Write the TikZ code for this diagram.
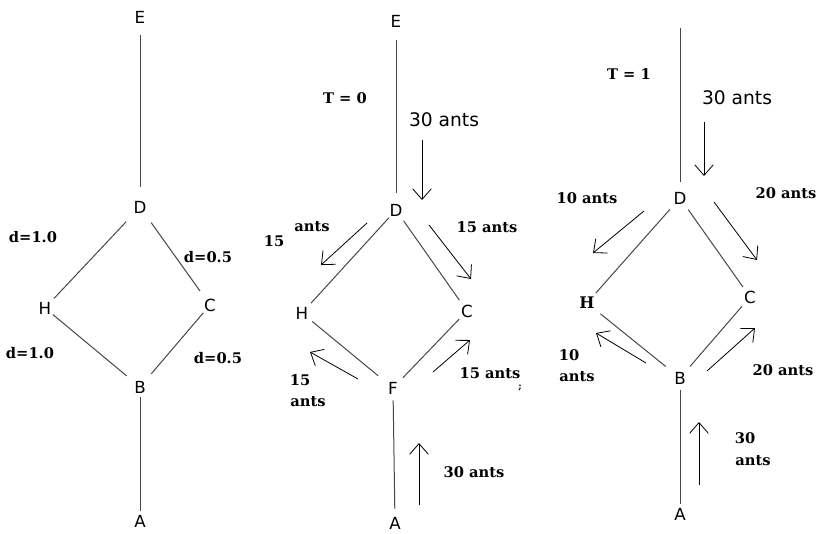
\documentclass[tikz,border=0pt]{standalone}
\usepackage{fontspec}
\setmainfont{DejaVu Serif}
\newfontfamily\sansfam{DejaVu Sans}
\usetikzlibrary{arrows.meta}
\begin{document}
\begin{tikzpicture}[x=0.75pt,y=-0.75pt,
  vtx/.style={circle,inner sep=0pt,minimum size=15pt,font=\sansfam\fontsize{12.5}{15}\selectfont},
  vtxs/.style={vtx,font=\bfseries\fontsize{12}{14}\selectfont},
  lbl/.style={inner sep=0pt,font=\bfseries\fontsize{11}{13}\selectfont},
  big/.style={inner sep=0pt,font=\sansfam\fontsize{14}{16}\selectfont},
  edge/.style={draw=black!72,line width=0.75pt},
  flow/.style={draw=black,line width=0.6pt,-{Straight Barb[length=8pt,width=14pt]}},
]
\useasboundingbox (0,0) rectangle (817,533);

% ---------- graph with distances ----------
\node[vtx] (E1) at (140,17) {E};
\node[vtx] (D1) at (140,207) {D};
\node[vtx] (H1) at (45,308) {H};
\node[vtx] (C1) at (210,305) {C};
\node[vtx] (B1) at (140,387) {B};
\node[vtx] (A1) at (140,521) {A};
\draw[edge,shorten <=6pt,shorten >=7.5pt] (E1) -- (D1);
\draw[edge,shorten <=7.5pt,shorten >=2.25pt] (D1) -- (H1);
\draw[edge,shorten <=6.75pt,shorten >=5.25pt] (D1) -- (C1);
\draw[edge,shorten >=5.25pt] (H1) -- (B1);
\draw[edge,shorten >=5.25pt] (C1) -- (B1);
\draw[edge] (B1) -- (A1);
\node[lbl] (l1) at (33,237) {d=1.0};
\node[lbl] (l2) at (208,257) {d=0.5};
\node[lbl] (l3) at (30,353) {d=1.0};
\node[lbl] (l4) at (218,358) {d=0.5};

% ---------- T = 0 ----------
\node[vtx] (E2) at (396,21) {E};
\node[vtx] (D2) at (396,210) {D};
\node[vtx] (H2) at (302,313) {H};
\node[vtx] (C2) at (467,311) {C};
\node[vtx] (F2) at (393,388) {F};
\node[vtx] (A2) at (395,523) {A};
\draw[edge,shorten <=6.75pt,shorten >=5.25pt] (E2) -- (D2);
\draw[edge,shorten >=2.25pt] (D2) -- (H2);
\draw[edge,shorten <=2.25pt,shorten >=2.25pt] (D2) -- (C2);
\draw[edge,shorten <=2.25pt,shorten >=6.75pt] (H2) -- (F2);
\draw[edge,shorten <=3pt,shorten >=0.75pt] (F2) -- (C2);
\draw[edge,shorten <=1.5pt,shorten >=3pt] (F2) -- (A2);

\coordinate (p1) at (422,140); \coordinate (q1) at (422,200);
\coordinate (p2) at (367,223); \coordinate (q2) at (321,265);
\coordinate (p3) at (429,225); \coordinate (q3) at (471,279);
\coordinate (p4) at (358,379); \coordinate (q4) at (310,352);
\coordinate (p5) at (433,372); \coordinate (q5) at (470,340);
\coordinate (p6) at (419,505); \coordinate (q6) at (419,443);
\draw[flow] (p1) -- (q1);
\draw[flow] (p2) -- (q2);
\draw[flow] (p3) -- (q3);
\draw[flow] (p4) -- (q4);
\draw[flow] (p5) -- (q5);
\draw[flow] (p6) -- (q6);

\node[lbl] (t0) at (345,98) {T = 0};
\node[big] (n0) at (444,120) {30 ants};
\node[lbl] (m1) at (274,241) {15};
\node[lbl] (m2) at (312,227) {ants};
\node[lbl] (m3) at (487,227) {15 ants};
\node[lbl] (m4) at (300,380) {15};
\node[lbl] (m5) at (308,402) {ants};
\node[lbl] (m6) at (490,373) {15 ants};
\node[lbl,font=\bfseries\fontsize{7}{8}\selectfont] (m7) at (520,388) {;};
\node[lbl] (m8) at (474,472) {30 ants};

% ---------- T = 1 ----------
\coordinate (T3) at (680,28);
\node[vtx] (D3) at (680,198) {D};
\node[vtxs] (H3) at (587,303) {H};
\node[vtx] (C3) at (750,297) {C};
\node[vtx] (B3) at (680,378) {B};
\node[vtx] (A3) at (680,514) {A};
\draw[edge,shorten >=4.5pt] (T3) -- (D3);
\draw[edge,shorten <=3.75pt,shorten >=2.25pt] (D3) -- (H3);
\draw[edge,shorten <=3pt,shorten >=1.5pt] (D3) -- (C3);
\draw[edge,shorten <=5.25pt,shorten >=6pt] (H3) -- (B3);
\draw[edge,shorten <=3.75pt,shorten >=1.5pt] (B3) -- (C3);
\draw[edge,shorten <=1.5pt] (B3) -- (A3);

\coordinate (r1) at (704,122); \coordinate (s1) at (704,176);
\coordinate (r2) at (644,211); \coordinate (s2) at (593,253);
\coordinate (r3) at (714,202); \coordinate (s3) at (757,260);
\coordinate (r4) at (646,363); \coordinate (s4) at (596,333);
\coordinate (r5) at (707,371); \coordinate (s5) at (755,328);
\coordinate (r6) at (699,485); \coordinate (s6) at (699,422);
\draw[flow] (r1) -- (s1);
\draw[flow] (r2) -- (s2);
\draw[flow] (r3) -- (s3);
\draw[flow] (r4) -- (s4);
\draw[flow] (r5) -- (s5);
\draw[flow] (r6) -- (s6);

\node[lbl] (t1) at (629,74) {T = 1};
\node[big] (n1) at (737,98) {30 ants};
\node[lbl] (k1) at (587,198) {10 ants};
\node[lbl] (k2) at (786,193) {20 ants};
\node[lbl] (k3) at (569,355) {10};
\node[lbl] (k4) at (577,377) {ants};
\node[lbl] (k5) at (783,370) {20 ants};
\node[lbl] (k6) at (745,438) {30};
\node[lbl] (k7) at (753,461) {ants};
\end{tikzpicture}
\end{document}
